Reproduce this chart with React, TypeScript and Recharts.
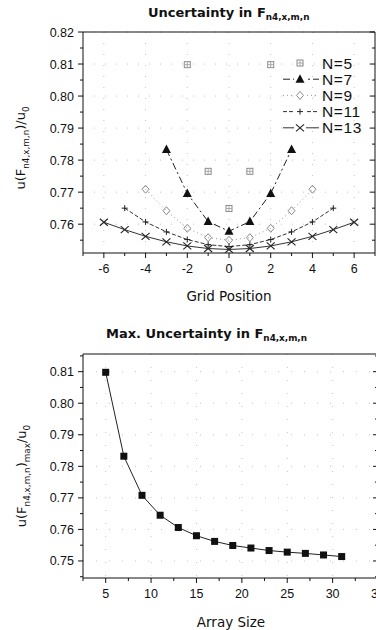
import { CartesianGrid, Line, LineChart, XAxis, YAxis } from "recharts";

// grid position vs normalised uncertainty, one array per array size N
const pos5 = [-2, -1, 0, 1, 2];
const n5 = [0.8098, 0.7765, 0.7649, 0.7765, 0.8098];
const pos7 = [-3, -2, -1, 0, 1, 2, 3];
const n7 = [0.7833, 0.7696, 0.7608, 0.7578, 0.7608, 0.7696, 0.7833];
const pos9 = [-4, -3, -2, -1, 0, 1, 2, 3, 4];
const n9 = [0.7709, 0.7642, 0.7587, 0.7558, 0.755, 0.7558, 0.7587, 0.7642, 0.7709];
const pos11 = [-5, -4, -3, -2, -1, 0, 1, 2, 3, 4, 5];
const n11 = [0.765, 0.7607, 0.7576, 0.7552, 0.7536, 0.753, 0.7536, 0.7552, 0.7576, 0.7607, 0.765];
const pos13 = [-6, -5, -4, -3, -2, -1, 0, 1, 2, 3, 4, 5, 6];
const n13 = [0.7606, 0.7583, 0.7562, 0.7545, 0.7532, 0.7524, 0.7521, 0.7524, 0.7532, 0.7545, 0.7562, 0.7583, 0.7606];

// max uncertainty vs array size
const arraySizes = [5, 7, 9, 11, 13, 15, 17, 19, 21, 23, 25, 27, 29, 31];
const maxUnc = [0.8098, 0.7832, 0.7708, 0.7645, 0.7606, 0.758, 0.7562, 0.7549, 0.7541, 0.7533, 0.7528, 0.7524, 0.7519, 0.7514];

const gridXTicks = [-7, -6, -5, -4, -3, -2, -1, 0, 1, 2, 3, 4, 5, 6, 7];
const gridXMajors = [-6, -4, -2, 0, 2, 4, 6];
const topYTicks = [0.755, 0.76, 0.765, 0.77, 0.775, 0.78, 0.785, 0.79, 0.795, 0.8, 0.805, 0.81, 0.815, 0.82];
const topYMajors = [0.76, 0.77, 0.78, 0.79, 0.8, 0.81, 0.82];
const sizeXTicks = [2.5, 5, 7.5, 10, 12.5, 15, 17.5, 20, 22.5, 25, 27.5, 30, 32.5, 35];
const sizeXMajors = [5, 10, 15, 20, 25, 30, 35];
const botYTicks = [0.745, 0.75, 0.755, 0.76, 0.765, 0.77, 0.775, 0.78, 0.785, 0.79, 0.795, 0.8, 0.805, 0.81, 0.815];
const botYMajors = [0.75, 0.76, 0.77, 0.78, 0.79, 0.8, 0.81];

const zip = (xs: number[], ys: number[]) => xs.map((x, i) => ({ x, y: ys[i] }));

const tickFont = "'Liberation Sans', Arial, sans-serif";
const labelFont = "'DejaVu Sans', Verdana, sans-serif";

type Side = "bottom" | "left" | "top" | "right";

function makeTick(side: Side, majors: number[], showLabel: boolean, fmt: (v: number) => string) {
  return (props: any) => {
    const { x, y, payload } = props;
    const v = payload.value as number;
    const major = majors.some((m) => Math.abs(m - v) < 1e-6);
    const len = major ? 5 : 3;
    let line = null;
    if (side === "bottom") line = <line x1={x} y1={y} x2={x} y2={y + len} stroke="#111" />;
    if (side === "top") line = <line x1={x} y1={y} x2={x} y2={y + len} stroke="#111" />;
    if (side === "left") line = <line x1={x} y1={y} x2={x - len} y2={y} stroke="#111" />;
    if (side === "right") line = <line x1={x} y1={y} x2={x - len} y2={y} stroke="#111" />;
    return (
      <g>
        {line}
        {showLabel && major && side === "bottom" && (
          <text x={x} y={y + 20} textAnchor="middle" fontSize={12.5} fontFamily={tickFont} fill="#111">
            {fmt(v)}
          </text>
        )}
        {showLabel && major && side === "left" && (
          <text x={x - 9} y={y + 4.5} textAnchor="end" fontSize={12.5} fontFamily={tickFont} fill="#111">
            {fmt(v)}
          </text>
        )}
      </g>
    );
  };
}

const fmtInt = (v: number) => String(v);
const fmt2 = (v: number) => v.toFixed(2);

// marker shapes
function sym(kind: string, cx: number, cy: number, key?: string) {
  if (kind === "sq") {
    return (
      <g key={key}>
        <rect x={cx - 3} y={cy - 3} width={6} height={6} fill="none" stroke="#8a8a8a" />
        <path d={`M${cx - 3},${cy} L${cx + 3},${cy} M${cx},${cy - 3} L${cx},${cy + 3}`} stroke="#aaa" />
      </g>
    );
  }
  if (kind === "tri") {
    return <path key={key} d={`M${cx},${cy - 5} L${cx + 4.5},${cy + 3.5} L${cx - 4.5},${cy + 3.5} Z`} fill="#111" />;
  }
  if (kind === "dia") {
    return <path key={key} d={`M${cx},${cy - 4} L${cx + 3.5},${cy} L${cx},${cy + 4} L${cx - 3.5},${cy} Z`} fill="none" stroke="#8a8a8a" />;
  }
  if (kind === "plus") {
    return <path key={key} d={`M${cx - 3},${cy} L${cx + 3},${cy} M${cx},${cy - 3} L${cx},${cy + 3}`} stroke="#222" />;
  }
  if (kind === "x") {
    return <path key={key} d={`M${cx - 4},${cy - 3.5} L${cx + 4},${cy + 3.5} M${cx - 4},${cy + 3.5} L${cx + 4},${cy - 3.5}`} stroke="#222" strokeWidth={1.1} />;
  }
  return <rect key={key} x={cx - 3.5} y={cy - 3.5} width={7} height={7} fill="#111" />;
}

const dotOf = (kind: string, name: string) => (p: any) => sym(kind, p.cx, p.cy, `${name}-${p.index}`);

const series = [
  { name: "N=5", kind: "sq", pos: pos5, vals: n5, stroke: "none", dash: undefined as string | undefined },
  { name: "N=7", kind: "tri", pos: pos7, vals: n7, stroke: "#222", dash: "7 3 2 3" },
  { name: "N=9", kind: "dia", pos: pos9, vals: n9, stroke: "#999", dash: "1 3" },
  { name: "N=11", kind: "plus", pos: pos11, vals: n11, stroke: "#333", dash: "4 2" },
  { name: "N=13", kind: "x", pos: pos13, vals: n13, stroke: "#333", dash: undefined },
];

const sub = { fontSize: "0.68em", verticalAlign: "-0.35em" } as const;

export default function App() {
  return (
    <div style={{ position: "absolute", left: 0, top: 0, width: 376, height: 630, overflow: "hidden", background: "#fff" }}>
      {/* top panel */}
      <div style={{ position: "absolute", left: 0, top: 0, width: 376, height: 300 }}>
        <LineChart width={376} height={300} margin={{ top: 31, right: 0, bottom: 0, left: 33 }}>
          <CartesianGrid stroke="#c4c4c4" strokeDasharray="1 10" horizontalValues={topYMajors} verticalValues={gridXMajors} />
          <XAxis xAxisId={0} type="number" dataKey="x" domain={[-7, 7]} allowDataOverflow ticks={gridXTicks} interval={0} height={47}
            axisLine={{ stroke: "#111" }} tickLine={false} tickSize={0} tickMargin={0} tick={makeTick("bottom", gridXMajors, true, fmtInt)} />
          <XAxis xAxisId="t" orientation="top" type="number" domain={[-7, 7]} allowDataOverflow ticks={gridXTicks} interval={0} height={1}
            axisLine={{ stroke: "#111" }} tickLine={false} tickSize={0} tickMargin={0} tick={makeTick("top", gridXMajors, false, fmtInt)} />
          <YAxis yAxisId={0} type="number" domain={[0.751, 0.82]} allowDataOverflow ticks={topYTicks} interval={0} width={50}
            axisLine={{ stroke: "#111" }} tickLine={false} tickSize={0} tickMargin={0} tick={makeTick("left", topYMajors, true, fmt2)} />
          <YAxis yAxisId="r" orientation="right" type="number" domain={[0.751, 0.82]} allowDataOverflow ticks={topYTicks} interval={0} width={1}
            axisLine={{ stroke: "#111" }} tickLine={false} tickSize={0} tickMargin={0} tick={makeTick("right", topYMajors, false, fmt2)} />
          {series.map((s) => (
            <Line key={s.name} data={zip(s.pos, s.vals)} dataKey="y" type="linear" stroke={s.stroke} strokeWidth={1}
              strokeDasharray={s.dash} dot={dotOf(s.kind, s.name)} activeDot={false} isAnimationActive={false} />
          ))}
        </LineChart>
        <svg width={100} height={90} style={{ position: "absolute", left: 276, top: 51 }}>
          {series.map((s, i) => {
            const cy = 12 + i * 16.2;
            return (
              <g key={s.name}>
                {s.stroke !== "none" && <line x1={7} y1={cy} x2={43} y2={cy} stroke={s.stroke} strokeDasharray={s.dash} />}
                {s.stroke !== "none" && <rect x={18} y={cy - 5} width={12} height={10} fill="#fff" />}
                {sym(s.kind, 24, cy)}
                <text x={46} y={cy + 5.5} fontSize={15.5} letterSpacing={0.6} fontFamily={tickFont} fill="#111">{s.name}</text>
              </g>
            );
          })}
        </svg>
        <div style={{ position: "absolute", left: 148, top: 5, fontFamily: labelFont, fontWeight: "bold", fontSize: 13, whiteSpace: "nowrap", color: "#111" }}>
          Uncertainty in F<span style={sub}>n4,x,m,n</span>
        </div>
        <div style={{ position: "absolute", left: 229, top: 296, transform: "translate(-50%,-50%)", fontFamily: labelFont, fontSize: 13.5, whiteSpace: "nowrap", color: "#111" }}>
          Grid Position
        </div>
        <div style={{ position: "absolute", left: 22, top: 148, transform: "translate(-50%,-50%) rotate(-90deg)", fontFamily: labelFont, fontSize: 13, whiteSpace: "nowrap", color: "#111" }}>
          u(F<span style={sub}>n4,x,m,n</span>)/u<span style={sub}>0</span>
        </div>
      </div>

      {/* bottom panel */}
      <div style={{ position: "absolute", left: 0, top: 300, width: 380, height: 330 }}>
        <LineChart width={380} height={330} margin={{ top: 53, right: 1, bottom: 0, left: 33 }}>
          <CartesianGrid stroke="#c4c4c4" strokeDasharray="1 12" horizontalValues={botYMajors} verticalValues={sizeXMajors} />
          <XAxis xAxisId={0} type="number" dataKey="x" domain={[2.5, 35]} allowDataOverflow ticks={sizeXTicks} interval={0} height={52}
            axisLine={{ stroke: "#111" }} tickLine={false} tickSize={0} tickMargin={0} tick={makeTick("bottom", sizeXMajors, true, fmtInt)} />
          <XAxis xAxisId="t" orientation="top" type="number" domain={[2.5, 35]} allowDataOverflow ticks={sizeXTicks} interval={0} height={1}
            axisLine={{ stroke: "#111" }} tickLine={false} tickSize={0} tickMargin={0} tick={makeTick("top", sizeXMajors, false, fmtInt)} />
          <YAxis yAxisId={0} type="number" domain={[0.7446, 0.8156]} allowDataOverflow ticks={botYTicks} interval={0} width={50}
            axisLine={{ stroke: "#111" }} tickLine={false} tickSize={0} tickMargin={0} tick={makeTick("left", botYMajors, true, fmt2)} />
          <YAxis yAxisId="r" orientation="right" type="number" domain={[0.7446, 0.8156]} allowDataOverflow ticks={botYTicks} interval={0} width={1}
            axisLine={{ stroke: "#111" }} tickLine={false} tickSize={0} tickMargin={0} tick={makeTick("right", botYMajors, false, fmt2)} />
          <Line data={zip(arraySizes, maxUnc)} dataKey="y" type="linear" stroke="#222" strokeWidth={1}
            dot={dotOf("box", "max")} activeDot={false} isAnimationActive={false} />
        </LineChart>
        <div style={{ position: "absolute", left: 106, top: 26, fontFamily: labelFont, fontWeight: "bold", fontSize: 13, whiteSpace: "nowrap", color: "#111" }}>
          Max. Uncertainty in F<span style={sub}>n4,x,m,n</span>
        </div>
        <div style={{ position: "absolute", left: 231, top: 322, transform: "translate(-50%,-50%)", fontFamily: labelFont, fontSize: 13.5, whiteSpace: "nowrap", color: "#111" }}>
          Array Size
        </div>
        <div style={{ position: "absolute", left: 23, top: 176, transform: "translate(-50%,-50%) rotate(-90deg)", fontFamily: labelFont, fontSize: 13, whiteSpace: "nowrap", color: "#111" }}>
          u(F<span style={sub}>n4,x,m,n</span>)<span style={sub}>max</span>/u<span style={sub}>0</span>
        </div>
      </div>
    </div>
  );
}
